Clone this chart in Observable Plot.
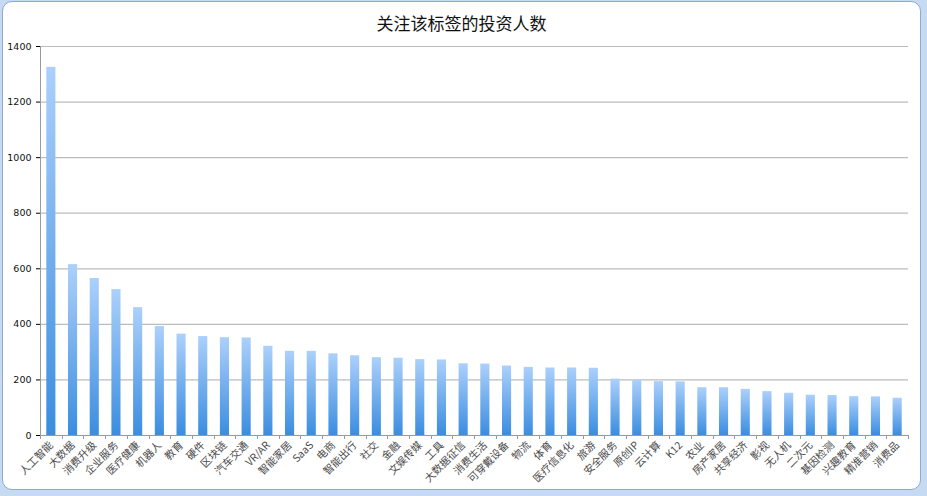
<!DOCTYPE html>
<html>
<head>
<meta charset="utf-8">
<script src="https://cdn.jsdelivr.net/npm/d3@7"></script>
<script src="https://cdn.jsdelivr.net/npm/@observablehq/plot@0.6"></script>
<style>
  html, body { margin: 0; padding: 0; background: #c6daf1; }
  #frame {
    position: absolute; left: 2px; top: 1px; width: 917px; height: 487px;
    background: #fff; border: 1px solid #8ea9d6; border-radius: 10px; overflow: hidden;
  }
  #title {
    height: 34px; line-height: 41px; text-align: center;
    font-family: "Noto Sans CJK SC", sans-serif; font-size: 17px; color: #111;
  }
  #chart svg { display: block; }
  g[aria-label^="x-axis"] text { font-family: "Noto Sans CJK SC", sans-serif; fill: #4a4a4a; }
  g[aria-label^="y-axis"] text { fill: #111; }
</style>
</head>
<body>
<div id="frame">
  <div id="title">关注该标签的投资人数</div>
  <div id="chart"></div>
</div>
<script>
const categories = ["人工智能","大数据","消费升级","企业服务","医疗健康","机器人","教育","硬件","区块链","汽车交通",
  "VR/AR","智能家居","SaaS","电商","智能出行","社交","金融","文娱传媒","工具","大数据征信",
  "消费生活","可穿戴设备","物流","体育","医疗信息化","旅游","安全服务","原创IP","云计算","K12",
  "农业","房产家居","共享经济","影视","无人机","二次元","基因检测","兴趣教育","精准营销","消费品"];
const investors = [1325,615,565,525,460,392,365,356,352,351,
  321,303,303,294,287,280,278,273,272,258,
  257,250,245,243,243,242,203,198,194,193,
  172,172,166,158,152,145,144,140,139,134];
const yTicks = [0,200,400,600,800,1000,1200,1400];

const data = categories.map((c, i) => ({category: c, value: investors[i]}));
const NS = "http://www.w3.org/2000/svg";

function gradientDefs() {
  const defs = document.createElementNS(NS, "defs");
  const lg = document.createElementNS(NS, "linearGradient");
  lg.setAttribute("id", "barGrad");
  lg.setAttribute("x1", "0"); lg.setAttribute("y1", "0");
  lg.setAttribute("x2", "0"); lg.setAttribute("y2", "1");
  [["0%", "#acd0fb"], ["100%", "#3b8de0"]].forEach(([o, c]) => {
    const s = document.createElementNS(NS, "stop");
    s.setAttribute("offset", o); s.setAttribute("stop-color", c);
    lg.appendChild(s);
  });
  defs.appendChild(lg);
  return defs;
}

function axisLines(index, scales, values, dims) {
  const g = document.createElementNS(NS, "g");
  const left = dims.marginLeft, right = dims.width - dims.marginRight;
  const bottom = dims.height - dims.marginBottom, top = dims.marginTop;
  const step = (right - left) / categories.length;
  const line = (x1, y1, x2, y2) => {
    const l = document.createElementNS(NS, "line");
    l.setAttribute("x1", x1); l.setAttribute("y1", y1);
    l.setAttribute("x2", x2); l.setAttribute("y2", y2);
    l.setAttribute("stroke", "#9a9a9a"); l.setAttribute("stroke-width", 1);
    g.appendChild(l);
  };
  line(left + 0.5, top, left + 0.5, bottom + 4);
  line(left, bottom + 0.5, right, bottom + 0.5);
  for (let i = 1; i <= categories.length; i++) {
    const x = Math.round(left + i * step) + 0.5;
    line(x, bottom, x, bottom + 4);
  }
  return g;
}

const chart = Plot.plot({
  width: 917,
  height: 453,
  marginLeft: 37,
  marginRight: 12,
  marginTop: 10,
  marginBottom: 54,
  style: {fontFamily: "'DejaVu Sans', sans-serif", fontSize: "9.5px", background: "transparent"},
  x: {domain: categories, paddingInner: 0.58, paddingOuter: 0.29, round: false, label: null,
      tickRotate: -45, tickSize: 0, tickPadding: 8},
  y: {domain: [0, 1400], ticks: yTicks, tickFormat: d3.format("d"), label: null, tickSize: 4, tickPadding: 5},
  marks: [
    gradientDefs,
    Plot.ruleY(yTicks.slice(1), {stroke: "#bcbcbc", strokeWidth: 1.2}),
    Plot.barY(data, {x: "category", y: "value", fill: "url(#barGrad)"}),
    axisLines
  ]
});
chart.querySelectorAll('g[aria-label^="x-axis"] text').forEach(t => t.style.fontSize = "10.5px");
document.getElementById("chart").appendChild(chart);
</script>
</body>
</html>
